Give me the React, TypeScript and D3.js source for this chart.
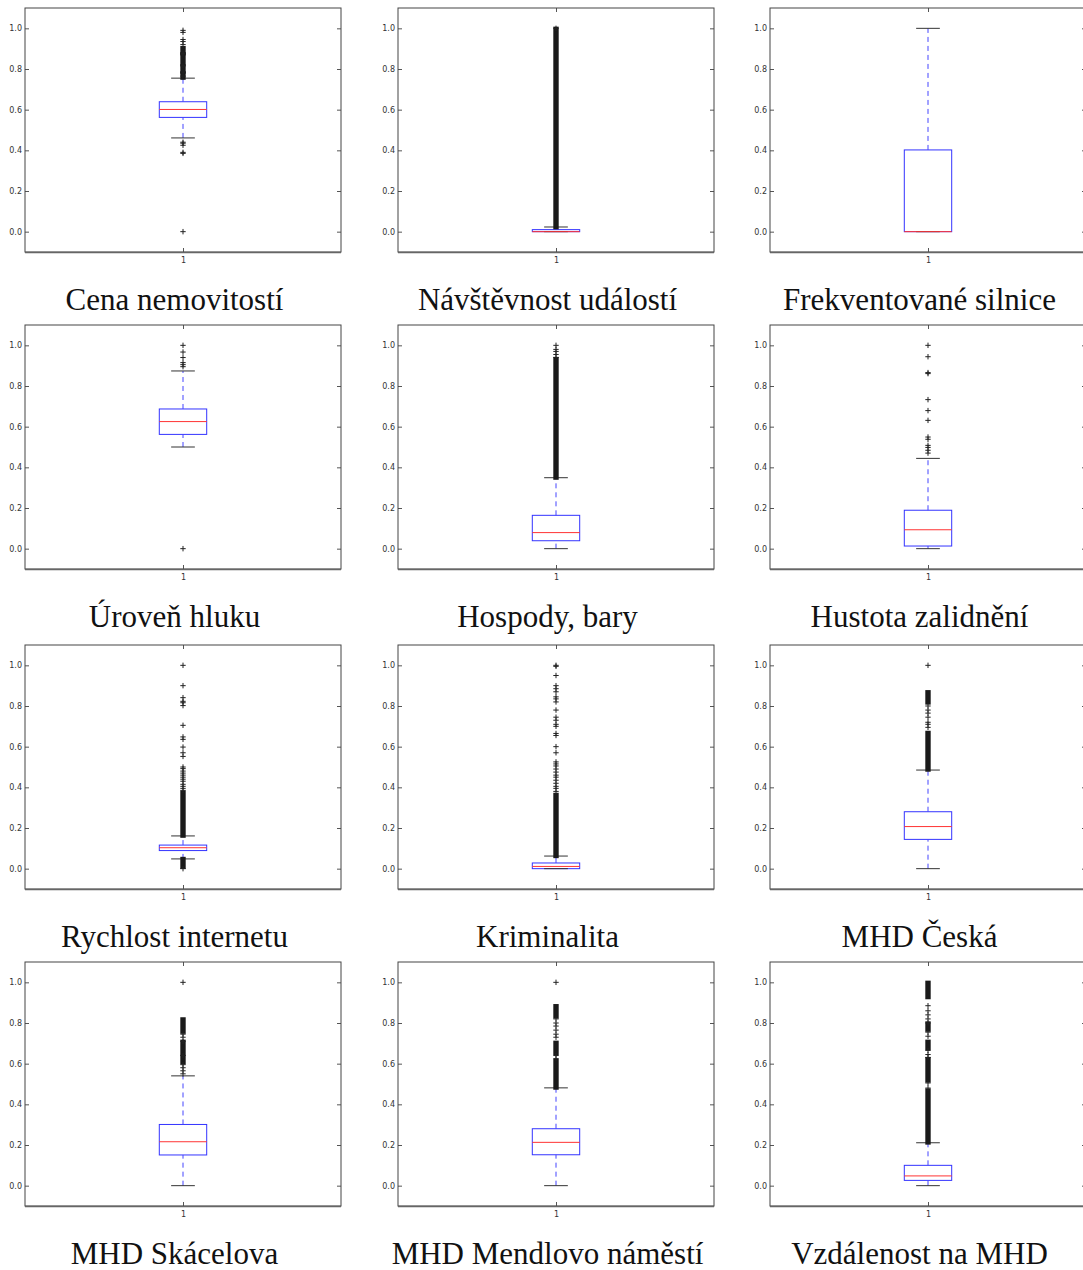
import { useEffect, useRef } from 'react';
import * as d3 from 'd3';

// values
const titles = [
  'Cena nemovitostí', 'Návštěvnost událostí', 'Frekventované silnice',
  'Úroveň hluku', 'Hospody, bary', 'Hustota zalidnění',
  'Rychlost internetu', 'Kriminalita', 'MHD Česká',
  'MHD Skácelova', 'MHD Mendlovo náměstí', 'Vzdálenost na MHD',
];
const q1 = [0.562, 0.0, 0.0, 0.562, 0.039, 0.013, 0.089, 0.0, 0.144, 0.151, 0.152, 0.026];
const medians = [0.601, 0.0, 0.0, 0.625, 0.079, 0.093, 0.103, 0.011, 0.207, 0.216, 0.213, 0.048];
const q3 = [0.639, 0.01, 0.402, 0.687, 0.164, 0.189, 0.116, 0.028, 0.28, 0.301, 0.28, 0.1];
const whiskerLow = [0.461, 0.0, 0.0, 0.5, 0.0, 0.0, 0.048, 0.0, 0.0, 0.0, 0.0, 0.0];
const whiskerHigh = [0.755, 0.023, 1.0, 0.874, 0.349, 0.444, 0.161, 0.062, 0.485, 0.54, 0.481, 0.211];

// single outliers
const fliers: number[][] = [
  [0.0, 0.385, 0.39, 0.425, 0.435, 0.44, 0.765, 0.785, 0.815, 0.875, 0.92, 0.935, 0.945, 0.98, 0.99],
  [1.0],
  [],
  [0.0, 0.895, 0.905, 0.915, 0.94, 0.967, 1.0],
  [0.94, 0.955, 0.97, 0.98, 1.0],
  [0.47, 0.484, 0.498, 0.508, 0.538, 0.549, 0.631, 0.679, 0.733, 0.861, 0.866, 0.944, 1.0],
  [0.0, 0.385, 0.395, 0.405, 0.415, 0.43, 0.44, 0.45, 0.46, 0.47, 0.48, 0.492, 0.5, 0.552, 0.57, 0.598, 0.636, 0.648, 0.705, 0.802, 0.816, 0.823, 0.841, 0.9, 1.0],
  [0.38, 0.395, 0.405, 0.42, 0.435, 0.45, 0.46, 0.475, 0.49, 0.505, 0.515, 0.525, 0.57, 0.6, 0.655, 0.665, 0.7, 0.71, 0.73, 0.745, 0.78, 0.82, 0.835, 0.845, 0.87, 0.885, 0.9, 0.95, 0.995, 1.0],
  [0.695, 0.71, 0.72, 0.745, 0.765, 0.78, 0.8, 1.0],
  [0.55, 0.565, 0.58, 0.595, 0.64, 0.71, 0.73, 0.745, 1.0],
  [0.625, 0.64, 0.73, 0.745, 0.765, 0.785, 0.8, 0.82, 1.0],
  [0.48, 0.505, 0.63, 0.645, 0.665, 0.735, 0.755, 0.8, 0.82, 0.84, 0.86, 0.885],
];

// stretches where the outlier markers overlap into a solid column [low, high]
const flierRuns: number[][][] = [
  [[0.76, 0.775], [0.79, 0.81], [0.83, 0.87], [0.88, 0.9]],
  [[0.025, 0.995]],
  [],
  [],
  [[0.352, 0.93]],
  [],
  [[0.012, 0.045], [0.165, 0.37]],
  [[0.065, 0.36]],
  [[0.49, 0.665], [0.82, 0.865]],
  [[0.61, 0.63], [0.655, 0.705], [0.76, 0.815]],
  [[0.485, 0.61], [0.655, 0.7], [0.835, 0.88]],
  [[0.215, 0.465], [0.52, 0.62], [0.68, 0.705], [0.77, 0.795], [0.93, 0.995]],
];

const yTicks = [0, 0.2, 0.4, 0.6, 0.8, 1.0];

const colLefts = [25, 398, 770];
const rowTops = [8, 325, 645, 962];
const plotW = 316;
const plotH = 244;

const BoxGrid = () => {
  const ref = useRef<SVGSVGElement>(null);

  useEffect(() => {
    document.body.style.margin = '0';
    const svg = d3.select(ref.current);
    svg.selectAll('*').remove();

    const xScale = d3.scaleLinear().domain([0.5, 1.5]).range([0, plotW]);
    const yScale = d3.scaleLinear().domain([-0.1, 1.1]).range([plotH, 0]);
    const boxW = xScale(1.15) - xScale(1);
    const capW = boxW / 2;
    const cx = xScale(1);
    const arm = 2.7;

    titles.forEach((title, i) => {
      const g = svg.append('g')
        .attr('transform', `translate(${colLefts[i % 3]},${rowTops[Math.floor(i / 3)]})`);

      // axes (ticks inward, classic style)
      const left = g.append('g').call(
        d3.axisLeft(yScale).tickValues(yTicks).tickSize(-4).tickPadding(3)
          .tickFormat(d3.format('.1f') as any));
      const right = g.append('g').attr('transform', `translate(${plotW},0)`)
        .call(d3.axisRight(yScale).tickValues(yTicks).tickSize(-4).tickFormat(() => ''));
      const top = g.append('g')
        .call(d3.axisTop(xScale).tickValues([1]).tickSize(-4).tickFormat(() => ''));
      const bottom = g.append('g').attr('transform', `translate(0,${plotH})`)
        .call(d3.axisBottom(xScale).tickValues([1]).tickSize(-4).tickPadding(5)
          .tickFormat(d3.format('d') as any));
      [left, right, top, bottom].forEach(a => {
        a.select('.domain').remove();
        a.selectAll('line').attr('stroke', '#555');
        a.selectAll('text').attr('fill', '#333')
          .style('font-family', 'DejaVu Sans').style('font-size', '8px');
      });

      // box
      g.append('rect')
        .attr('x', cx - boxW / 2).attr('width', boxW)
        .attr('y', yScale(q3[i])).attr('height', yScale(q1[i]) - yScale(q3[i]))
        .attr('fill', 'none').attr('stroke', '#3333ff').attr('stroke-width', 1);

      // whiskers
      [[q3[i], whiskerHigh[i]], [whiskerLow[i], q1[i]]].forEach(([a, b]) => {
        if (b - a <= 0) return;
        g.append('line')
          .attr('x1', cx).attr('x2', cx)
          .attr('y1', yScale(a)).attr('y2', yScale(b))
          .attr('stroke', '#4444ff').attr('stroke-dasharray', '5,4');
      });

      // caps
      [whiskerLow[i], whiskerHigh[i]].forEach(v => {
        g.append('line')
          .attr('x1', cx - capW / 2).attr('x2', cx + capW / 2)
          .attr('y1', yScale(v)).attr('y2', yScale(v))
          .attr('stroke', '#333');
      });

      // median
      g.append('line')
        .attr('x1', cx - boxW / 2).attr('x2', cx + boxW / 2)
        .attr('y1', yScale(medians[i])).attr('y2', yScale(medians[i]))
        .attr('stroke', '#ff3333');

      // dense outliers
      g.selectAll('rect.run').data(flierRuns[i]).enter().append('rect')
        .attr('class', 'run')
        .attr('x', cx - arm).attr('width', arm * 2)
        .attr('y', d => yScale(d[1]) - arm)
        .attr('height', d => yScale(d[0]) - yScale(d[1]) + arm * 2)
        .attr('fill', '#1a1a1a');

      // single outliers
      g.selectAll('path.flier').data(fliers[i]).enter().append('path')
        .attr('class', 'flier')
        .attr('d', d => `M${cx - arm},${yScale(d)}h${arm * 2}M${cx},${yScale(d) - arm}v${arm * 2}`)
        .attr('stroke', '#222').attr('stroke-width', 1);

      // frame
      g.append('rect')
        .attr('width', plotW).attr('height', plotH)
        .attr('fill', 'none').attr('stroke', '#444').attr('stroke-width', 1);
      g.append('line')
        .attr('x1', 0).attr('x2', plotW).attr('y1', plotH + 0.5).attr('y2', plotH + 0.5)
        .attr('stroke', '#666').attr('stroke-width', 1.5);

      // caption
      g.append('text').text(title)
        .attr('x', plotW / 2 - 8.5).attr('y', plotH + 58)
        .attr('text-anchor', 'middle')
        .style('font-family', 'Liberation Serif').style('font-size', '31px')
        .attr('fill', '#111');
    });
  }, []);

  return (
    <div>
      <svg ref={ref} width={1083} height={1270} style={{ display: 'block' }}></svg>
    </div>
  );
};

export default function App() {
  return <BoxGrid />;
}
